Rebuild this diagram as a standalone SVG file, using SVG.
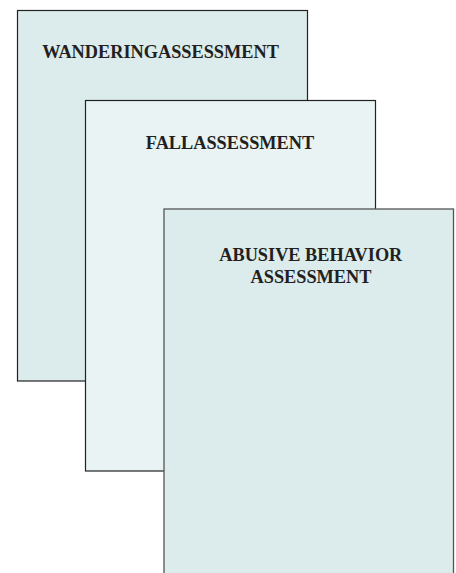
<svg xmlns="http://www.w3.org/2000/svg" width="456" height="573" viewBox="0 0 456 573">
<style>
.card{stroke:#222;stroke-width:1.2}
.t{font-family:"Liberation Serif","Times New Roman",serif;font-weight:bold;font-size:18.3px;fill:#231f20;text-anchor:middle}
</style>
<rect width="456" height="573" fill="#fff"/>
<g id="wandering">
<rect class="card" x="17.5" y="10.5" width="290" height="370.5" fill="#dcebeb"/>
<text class="t" x="160.5" y="58">WANDERINGASSESSMENT</text>
</g>
<g id="fall">
<rect class="card" x="85.5" y="100.5" width="290" height="370.5" fill="#e9f3f4"/>
<text class="t" x="230" y="149">FALLASSESSMENT</text>
</g>
<g id="abusive">
<rect x="164" y="209" width="289.5" height="370" fill="#dcebeb" stroke="#555" stroke-width="1.3"/>
<text class="t" x="310.8" y="261">ABUSIVE BEHAVIOR</text>
<text class="t" x="311" y="282.7">ASSESSMENT</text>
</g>
<g id="connectors"/>
</svg>
